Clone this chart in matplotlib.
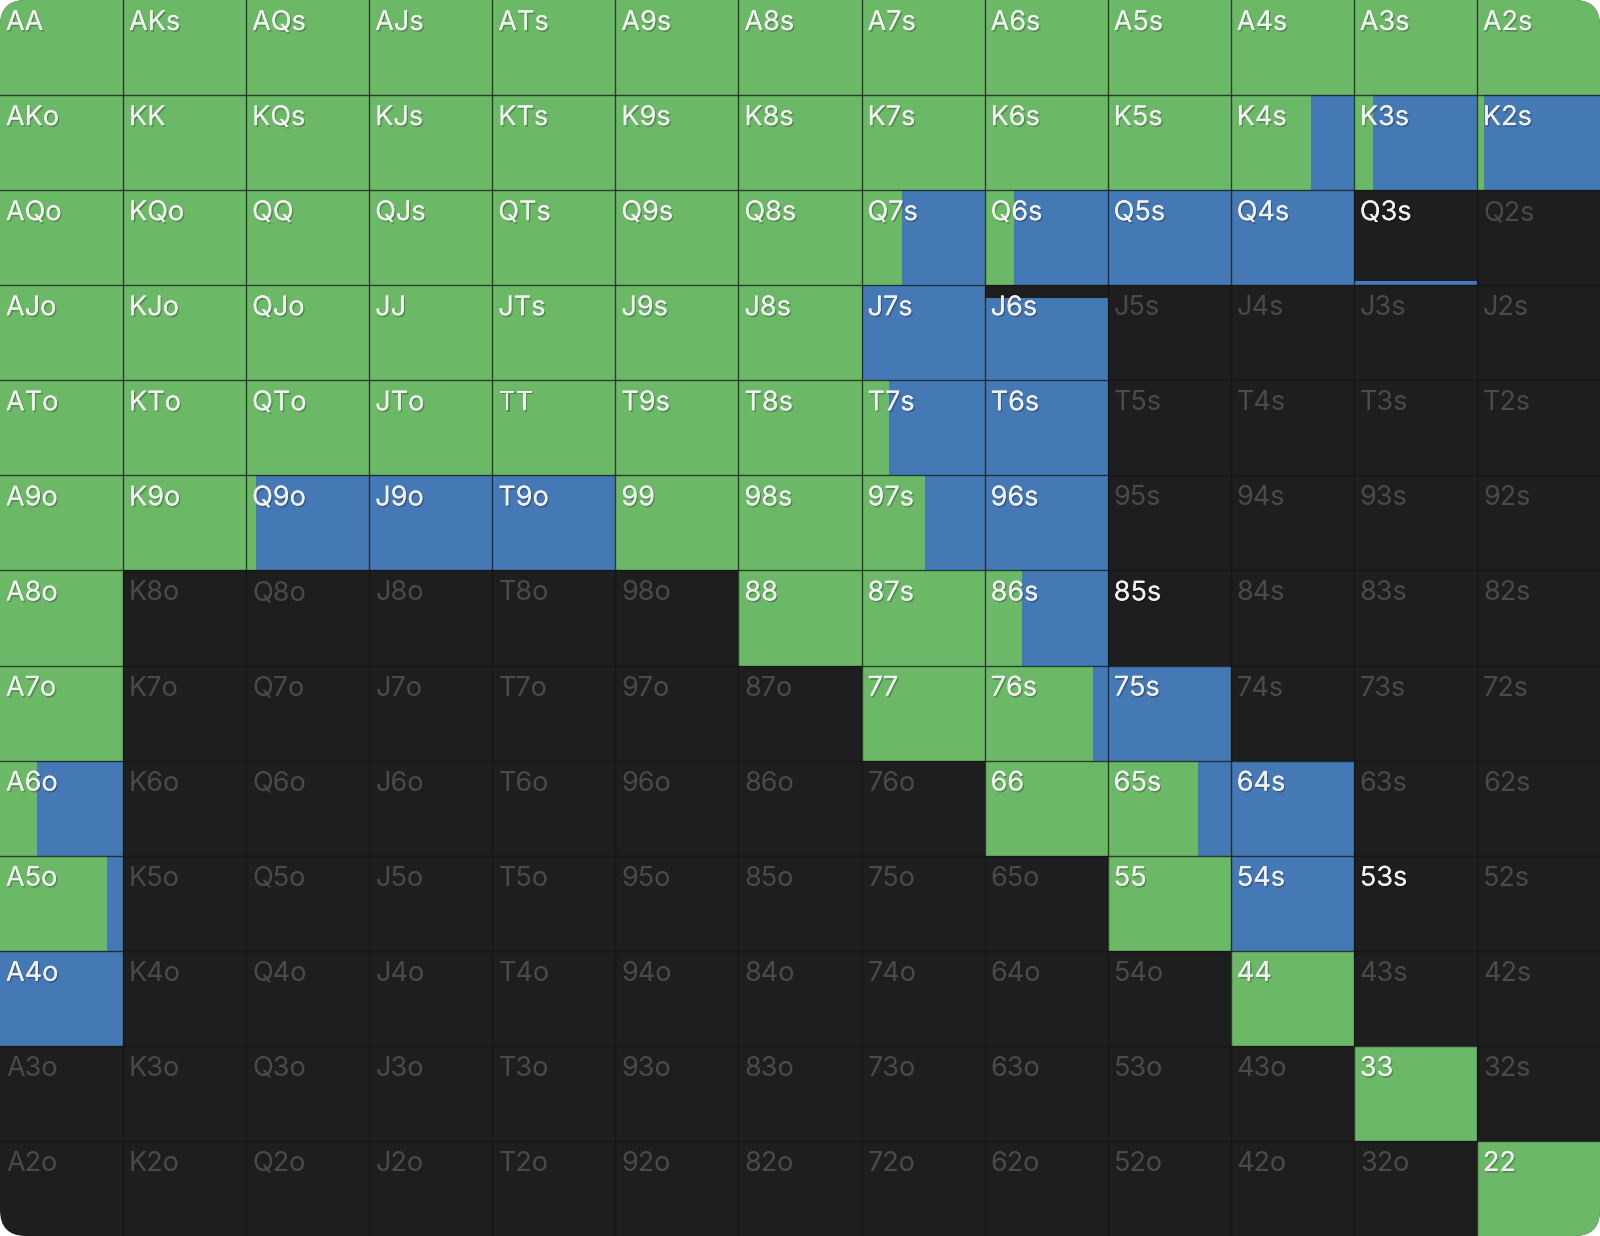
import matplotlib
matplotlib.use("Agg")
import matplotlib.pyplot as plt
from matplotlib.patches import Rectangle, FancyBboxPatch
from matplotlib.transforms import IdentityTransform
import matplotlib.patheffects as pe

ranks = ['A', 'K', 'Q', 'J', 'T', '9', '8', '7', '6', '5', '4', '3', '2']

# total play frequency (bar height, from bottom of cell)
play_freq = [
    [1, 1, 1, 1, 1, 1, 1, 1, 1, 1, 1, 1, 1],
    [1, 1, 1, 1, 1, 1, 1, 1, 1, 1, 1, 1, 1],
    [1, 1, 1, 1, 1, 1, 1, 1, 1, 1, 1, 0.045, 0],
    [1, 1, 1, 1, 1, 1, 1, 1, 0.87, 0, 0, 0, 0],
    [1, 1, 1, 1, 1, 1, 1, 1, 1, 0, 0, 0, 0],
    [1, 1, 1, 1, 1, 1, 1, 1, 1, 0, 0, 0, 0],
    [1, 0, 0, 0, 0, 0, 1, 1, 1, 0.002, 0, 0, 0],
    [1, 0, 0, 0, 0, 0, 0, 1, 1, 1, 0, 0, 0],
    [1, 0, 0, 0, 0, 0, 0, 0, 1, 1, 1, 0, 0],
    [1, 0, 0, 0, 0, 0, 0, 0, 0, 1, 1, 0.002, 0],
    [1, 0, 0, 0, 0, 0, 0, 0, 0, 0, 1, 0, 0],
    [0, 0, 0, 0, 0, 0, 0, 0, 0, 0, 0, 1, 0],
    [0, 0, 0, 0, 0, 0, 0, 0, 0, 0, 0, 0, 1],
]

# share of the played part that is green (rest is blue)
green_share = [
    [1, 1, 1, 1, 1, 1, 1, 1, 1, 1, 1, 1, 1],
    [1, 1, 1, 1, 1, 1, 1, 1, 1, 1, 0.65, 0.157, 0.06],
    [1, 1, 1, 1, 1, 1, 1, 0.33, 0.235, 0, 0, 0, 0],
    [1, 1, 1, 1, 1, 1, 1, 0, 0, 0, 0, 0, 0],
    [1, 1, 1, 1, 1, 1, 1, 0.22, 0, 0, 0, 0, 0],
    [1, 1, 0.08, 0, 0, 1, 1, 0.515, 0, 0, 0, 0, 0],
    [1, 0, 0, 0, 0, 0, 1, 1, 0.30, 0, 0, 0, 0],
    [1, 0, 0, 0, 0, 0, 0, 1, 0.88, 0, 0, 0, 0],
    [0.30, 0, 0, 0, 0, 0, 0, 0, 1, 0.73, 0, 0, 0],
    [0.867, 0, 0, 0, 0, 0, 0, 0, 0, 1, 0, 0, 0],
    [0, 0, 0, 0, 0, 0, 0, 0, 0, 0, 1, 0, 0],
    [0, 0, 0, 0, 0, 0, 0, 0, 0, 0, 0, 1, 0],
    [0, 0, 0, 0, 0, 0, 0, 0, 0, 0, 0, 0, 1],
]

GREEN = '#6bb966'
BLUE = '#4579b6'
BG = '#1e1e1e'

W, H = 1600, 1236
fig = plt.figure(figsize=(W / 100, H / 100), dpi=100, facecolor='white')
ax = fig.add_axes([0, 0, 1, 1])
ax.set_xlim(0, 13)
ax.set_ylim(13, 0)
ax.axis('off')

clip = FancyBboxPatch((0, 0), W, H, boxstyle="round,pad=0,rounding_size=26",
                      transform=IdentityTransform(), facecolor='none', edgecolor='none')
fig.patches.append(clip)

bgp = Rectangle((0, 0), 13, 13, facecolor=BG, edgecolor='none', zorder=0)
ax.add_patch(bgp)
bgp.set_clip_path(clip)

n = len(ranks)
for i in range(n):
    for j in range(n):
        h = play_freq[i][j]
        g = green_share[i][j]
        if h >= 0.01:
            top = i + 1 - h
            if g > 0:
                r = Rectangle((j, top), g, h, facecolor=GREEN, edgecolor='none', zorder=1)
                ax.add_patch(r)
                r.set_clip_path(clip)
            if g < 1:
                r = Rectangle((j + g, top), 1 - g, h, facecolor=BLUE, edgecolor='none', zorder=1)
                ax.add_patch(r)
                r.set_clip_path(clip)

# grid lines
for k in range(1, n):
    l1 = ax.axhline(k, color='#141414', lw=1.0, alpha=0.75, zorder=2)
    l2 = ax.axvline(k, color='#141414', lw=1.0, alpha=0.75, zorder=2)
    l1.set_clip_path(clip)
    l2.set_clip_path(clip)

shadow = [pe.withSimplePatchShadow(offset=(1, -1.2), shadow_rgbFace='black', alpha=0.25), pe.Normal()]
for i in range(n):
    for j in range(n):
        if i == j:
            lab = ranks[i] * 2
        elif j > i:
            lab = ranks[i] + ranks[j] + 's'
        else:
            lab = ranks[j] + ranks[i] + 'o'
        active = play_freq[i][j] > 0
        ax.annotate(lab, xy=(j, i), xytext=(6, -10), textcoords='offset pixels',
                    ha='left', va='top', fontsize=19.5, family=['Inter', 'DejaVu Sans'],
                    color='#f2f2f2' if active else '#4a4a4a', zorder=3,
                    path_effects=shadow if active else None)

fig.savefig('out.png', dpi=100, facecolor='white')
